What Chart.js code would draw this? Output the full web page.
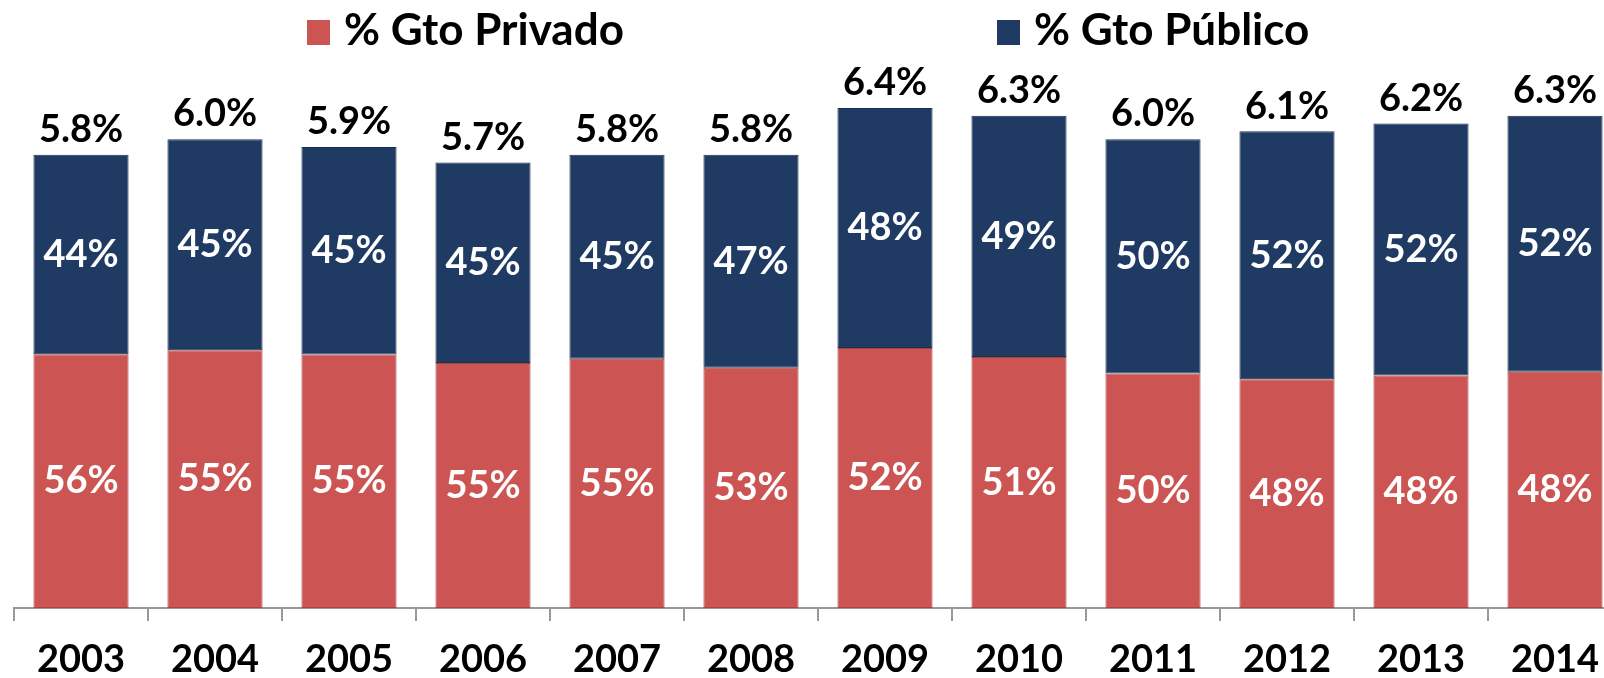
<!DOCTYPE html>
<html>
<head>
<meta charset="utf-8">
<script src="https://cdn.jsdelivr.net/npm/chart.js@4"></script>
<style>
  html, body { margin: 0; padding: 0; background: #fff; overflow: hidden; }
  #wrap { position: relative; width: 1640px; height: 699px; }
  #legend { position: absolute; top: 0; left: 0; width: 1604px; height: 60px; font-family: Lato, sans-serif; font-weight: bold; }
  .item { position: absolute; top: 3px; font-size: 44px; line-height: 50px; color: #000; white-space: nowrap; }
  .box { display: inline-block; width: 23px; height: 25px; margin-right: 14px; vertical-align: 0px; }
</style>
</head>
<body>
<div id="wrap">
  <canvas id="gastoChart"></canvas>
  <div id="legend"></div>
</div>
<script>
// gasto en salud (% PIB) y su composición
const years = ['2003', '2004', '2005', '2006', '2007', '2008', '2009', '2010', '2011', '2012', '2013', '2014'];
const totals = [5.8, 6.0, 5.9, 5.7, 5.8, 5.8, 6.4, 6.3, 6.0, 6.1, 6.2, 6.3];
const privadoPct = [56, 55, 55, 55, 55, 53, 52, 51, 50, 48, 48, 48];
const publicoPct = [44, 45, 45, 45, 45, 47, 48, 49, 50, 52, 52, 52];
const seriesNames = ['% Gto Privado', '% Gto Público'];

const redColor = '#cc5553';
const blueColor = '#1f3b63';
const fontFamily = 'Lato, "Open Sans", sans-serif';

const privado = totals.map((t, i) => t * privadoPct[i] / 100);
const publico = totals.map((t, i) => t * publicoPct[i] / 100);

// leyenda html
const legendEl = document.getElementById('legend');
const legendPos = [307, 997];
[redColor, blueColor].forEach((c, i) => {
  const d = document.createElement('div');
  d.className = 'item';
  d.style.left = legendPos[i] + 'px';
  d.innerHTML = '<span class="box" style="background:' + c + '"></span>' + seriesNames[i];
  legendEl.appendChild(d);
});

const labelPlugin = {
  id: 'barLabels',
  afterDatasetsDraw(chart) {
    const ctx = chart.ctx;
    ctx.save();
    ctx.font = 'bold 38px ' + fontFamily;
    ctx.textAlign = 'center';
    ctx.textBaseline = 'middle';
    ctx.fillStyle = '#fff';
    chart.data.datasets.forEach((ds, di) => {
      const pcts = di === 0 ? privadoPct : publicoPct;
      chart.getDatasetMeta(di).data.forEach((bar, i) => {
        ctx.fillText(pcts[i] + '%', bar.x, (bar.y + bar.base) / 2);
      });
    });
    // totales arriba
    ctx.fillStyle = '#000';
    ctx.textBaseline = 'bottom';
    chart.getDatasetMeta(1).data.forEach((bar, i) => {
      ctx.fillText(totals[i].toFixed(1) + '%', bar.x, bar.y - 6);
    });
    ctx.restore();
  }
};

const ctx = document.getElementById('gastoChart');
new Chart(ctx, {
  type: 'bar',
  data: {
    labels: years,
    datasets: [
      {
        label: seriesNames[0],
        data: privado,
        backgroundColor: redColor,
        borderColor: '#a94442',
        borderWidth: 1,
        borderSkipped: false,
        barPercentage: 0.71,
        categoryPercentage: 1
      },
      {
        label: seriesNames[1],
        data: publico,
        backgroundColor: blueColor,
        borderColor: '#17304f',
        borderWidth: 1,
        borderSkipped: false,
        barPercentage: 0.71,
        categoryPercentage: 1
      }
    ]
  },
  options: {
    responsive: true,
    maintainAspectRatio: false,
    animation: false,
    layout: {
      padding: { left: 14, right: 18, top: 61, bottom: 0 }
    },
    plugins: {
      legend: { display: false },
      tooltip: { enabled: false }
    },
    scales: {
      x: {
        stacked: true,
        grid: {
          offset: true,
          drawOnChartArea: false,
          tickLength: 13,
          color: '#999',
          lineWidth: 2
        },
        border: { color: '#999', width: 2 },
        ticks: {
          color: '#000',
          padding: 20,
          font: { family: fontFamily, size: 38, weight: 'bold', lineHeight: 1 }
        }
      },
      y: {
        stacked: true,
        display: false,
        min: 0,
        max: 7
      }
    }
  },
  plugins: [labelPlugin]
});
</script>
</body>
</html>
